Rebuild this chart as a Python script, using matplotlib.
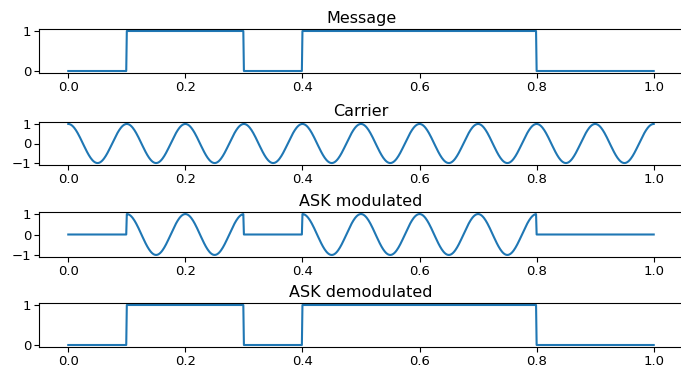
import numpy as np
import matplotlib
matplotlib.use("Agg")
import matplotlib.pyplot as plt

# Data
bits = [0, 1, 1, 0, 1, 1, 1, 1, 0, 0]   # one bit per 0.1 s
bit_duration = 0.1
carrier_freq = 10.0                      # Hz (10 cycles over 1 s)
titles = ["Message", "Carrier", "ASK modulated", "ASK demodulated"]
x_ticks = [0.0, 0.2, 0.4, 0.6, 0.8, 1.0]

t = np.linspace(0, 1, 1001)
idx = np.minimum((t / bit_duration + 1e-9).astype(int), len(bits) - 1)
message = np.array(bits, dtype=float)[idx]
carrier = np.cos(2 * np.pi * carrier_freq * t)
ask = message * carrier
demod = (np.abs(ask) > 0).astype(float) * message

fig = plt.figure(figsize=(6.81, 3.67), dpi=100)
W, H = 681, 367
left, right = 39, 683
boxes = [(29, 73), (122, 165), (212, 257), (303, 347)]
signals = [message, carrier, ask, demod]
yticks = [[0, 1], [-1, 0, 1], [-1, 0, 1], [0, 1]]

for (top, bot), sig, title, yt in zip(boxes, signals, titles, yticks):
    ax = fig.add_axes([left / W, 1 - bot / H, (right - left) / W, (bot - top) / H])
    ax.plot(t, sig, color="#1f77b4", lw=1.5)
    ax.set_title(title, fontsize=11.5, pad=4)
    ax.set_xticks(x_ticks)
    ax.set_yticks(yt)
    ax.tick_params(labelsize=9.5, pad=2)

fig.savefig("out.png", dpi=100)
